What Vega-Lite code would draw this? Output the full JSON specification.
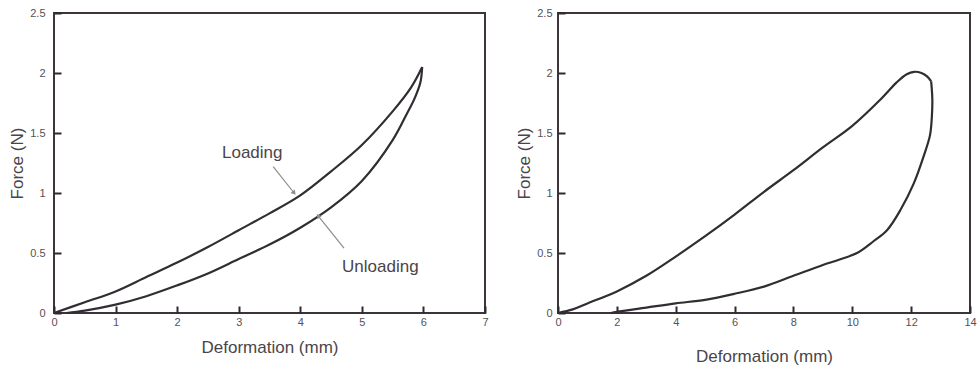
{
  "$schema": "https://vega.github.io/schema/vega-lite/v6.json",
  "background": "white",
  "padding": {"left": 7, "top": 6, "right": 0, "bottom": 0},
  "bounds": "flush",
  "spacing": 73,
  "config": {
    "font": "Liberation Sans",
    "view": {"stroke": "#3b353b", "strokeWidth": 2},
    "axis": {
      "domain": false,
      "grid": false,
      "zindex": 1,
      "labelFont": "Liberation Sans",
      "labelFontSize": 11,
      "labelColor": "#555055",
      "titleFont": "Liberation Sans",
      "titleFontSize": 17,
      "titleFontWeight": "normal",
      "titleColor": "#4a454a"
    },
    "axisX": {"labelFlush": false}
  },
  "datasets": {
    "left": [
      {"x": 0, "y": 0, "branch": "loading"},
      {"x": 0.5, "y": 0.09, "branch": "loading"},
      {"x": 1, "y": 0.18, "branch": "loading"},
      {"x": 1.5, "y": 0.3, "branch": "loading"},
      {"x": 2, "y": 0.42, "branch": "loading"},
      {"x": 2.5, "y": 0.55, "branch": "loading"},
      {"x": 3, "y": 0.69, "branch": "loading"},
      {"x": 3.5, "y": 0.83, "branch": "loading"},
      {"x": 4, "y": 0.98, "branch": "loading"},
      {"x": 4.5, "y": 1.18, "branch": "loading"},
      {"x": 5, "y": 1.4, "branch": "loading"},
      {"x": 5.5, "y": 1.68, "branch": "loading"},
      {"x": 5.8, "y": 1.88, "branch": "loading"},
      {"x": 5.98, "y": 2.05, "branch": "loading"},
      {"x": 5.98, "y": 2.05, "branch": "unloading"},
      {"x": 5.95, "y": 1.92, "branch": "unloading"},
      {"x": 5.85, "y": 1.78, "branch": "unloading"},
      {"x": 5.75, "y": 1.68, "branch": "unloading"},
      {"x": 5.5, "y": 1.44, "branch": "unloading"},
      {"x": 5, "y": 1.1, "branch": "unloading"},
      {"x": 4.5, "y": 0.88, "branch": "unloading"},
      {"x": 4, "y": 0.71, "branch": "unloading"},
      {"x": 3.5, "y": 0.57, "branch": "unloading"},
      {"x": 3, "y": 0.45, "branch": "unloading"},
      {"x": 2.5, "y": 0.33, "branch": "unloading"},
      {"x": 2, "y": 0.23, "branch": "unloading"},
      {"x": 1.5, "y": 0.14, "branch": "unloading"},
      {"x": 1, "y": 0.07, "branch": "unloading"},
      {"x": 0.5, "y": 0.02, "branch": "unloading"},
      {"x": 0.2, "y": 0, "branch": "unloading"}
    ],
    "leftNotes": [
      {"x": 3.22, "y": 1.33, "label": "Loading"},
      {"x": 5.3, "y": 0.38, "label": "Unloading"}
    ],
    "leftArrows": [
      {"name": "loading", "x": 3.56, "y": 1.22, "x2": 3.9, "y2": 1.0},
      {"name": "unloading", "x": 4.71, "y": 0.54, "x2": 4.29, "y2": 0.81}
    ],
    "right": [
      {"x": 0, "y": 0, "branch": "loading"},
      {"x": 0.5, "y": 0.03, "branch": "loading"},
      {"x": 1, "y": 0.08, "branch": "loading"},
      {"x": 2, "y": 0.18, "branch": "loading"},
      {"x": 3, "y": 0.31, "branch": "loading"},
      {"x": 4, "y": 0.47, "branch": "loading"},
      {"x": 5, "y": 0.64, "branch": "loading"},
      {"x": 6, "y": 0.82, "branch": "loading"},
      {"x": 7, "y": 1.01, "branch": "loading"},
      {"x": 8, "y": 1.19, "branch": "loading"},
      {"x": 9, "y": 1.38, "branch": "loading"},
      {"x": 10, "y": 1.56, "branch": "loading"},
      {"x": 11, "y": 1.79, "branch": "loading"},
      {"x": 11.5, "y": 1.92, "branch": "loading"},
      {"x": 11.85, "y": 1.99, "branch": "loading"},
      {"x": 12.1, "y": 2.01, "branch": "loading"},
      {"x": 12.35, "y": 2.0, "branch": "loading"},
      {"x": 12.55, "y": 1.97, "branch": "loading"},
      {"x": 12.68, "y": 1.93, "branch": "loading"},
      {"x": 12.68, "y": 1.93, "branch": "unloading"},
      {"x": 12.72, "y": 1.78, "branch": "unloading"},
      {"x": 12.7, "y": 1.62, "branch": "unloading"},
      {"x": 12.64, "y": 1.48, "branch": "unloading"},
      {"x": 12.43, "y": 1.31, "branch": "unloading"},
      {"x": 12.09, "y": 1.08, "branch": "unloading"},
      {"x": 11.64, "y": 0.86, "branch": "unloading"},
      {"x": 11.18, "y": 0.69, "branch": "unloading"},
      {"x": 10.73, "y": 0.6, "branch": "unloading"},
      {"x": 10.16, "y": 0.5, "branch": "unloading"},
      {"x": 9.5, "y": 0.44, "branch": "unloading"},
      {"x": 9, "y": 0.4, "branch": "unloading"},
      {"x": 8, "y": 0.31, "branch": "unloading"},
      {"x": 7, "y": 0.22, "branch": "unloading"},
      {"x": 6, "y": 0.16, "branch": "unloading"},
      {"x": 5, "y": 0.11, "branch": "unloading"},
      {"x": 4, "y": 0.08, "branch": "unloading"},
      {"x": 3, "y": 0.045, "branch": "unloading"},
      {"x": 2, "y": 0.01, "branch": "unloading"},
      {"x": 1.8, "y": 0, "branch": "unloading"}
    ]
  },
  "hconcat": [
    {
      "width": 431,
      "height": 300,
      "layer": [
        {
          "data": {"name": "left"},
          "mark": {"type": "line", "stroke": "#322d33", "strokeWidth": 2.2, "interpolate": "catmull-rom"},
          "encoding": {
            "x": {
              "field": "x", "type": "quantitative",
              "scale": {"domain": [0, 7], "nice": false},
              "axis": {
                "title": "Deformation (mm)", "values": [0, 1, 2, 3, 4, 5, 6, 7], "format": "d",
                "ticks": true, "tickSize": -7, "tickWidth": 2, "tickColor": "#2e292e",
                "labelPadding": 10, "titlePadding": 12
              }
            },
            "y": {
              "field": "y", "type": "quantitative",
              "scale": {"domain": [0, 2.5], "nice": false},
              "axis": {
                "title": "Force (N)", "values": [0, 0.5, 1, 1.5, 2, 2.5], "format": ".1~f",
                "ticks": true, "tickSize": -7, "tickWidth": 2, "tickColor": "#2e292e",
                "labelPadding": 16, "titlePadding": 3
              }
            },
            "detail": {"field": "branch"},
            "order": {"value": null}
          }
        },
        {
          "data": {"name": "leftArrows"},
          "mark": {"type": "rule", "stroke": "#8c8c8c", "strokeWidth": 1.2},
          "encoding": {
            "x": {"field": "x", "type": "quantitative"},
            "y": {"field": "y", "type": "quantitative"},
            "x2": {"field": "x2"},
            "y2": {"field": "y2"}
          }
        },
        {
          "data": {"name": "leftArrows"},
          "transform": [{"filter": "datum.name === 'loading'"}],
          "mark": {"type": "point", "shape": "triangle-up", "angle": 141, "filled": true, "color": "#8c8c8c", "size": 30, "opacity": 1},
          "encoding": {
            "x": {"field": "x2", "type": "quantitative"},
            "y": {"field": "y2", "type": "quantitative"}
          }
        },
        {
          "data": {"name": "leftArrows"},
          "transform": [{"filter": "datum.name === 'unloading'"}],
          "mark": {"type": "point", "shape": "triangle-up", "angle": 321, "filled": true, "color": "#8c8c8c", "size": 30, "opacity": 1},
          "encoding": {
            "x": {"field": "x2", "type": "quantitative"},
            "y": {"field": "y2", "type": "quantitative"}
          }
        },
        {
          "data": {"name": "leftNotes"},
          "mark": {"type": "text", "font": "Liberation Sans", "fontSize": 17, "color": "#4a454a"},
          "encoding": {
            "x": {"field": "x", "type": "quantitative"},
            "y": {"field": "y", "type": "quantitative"},
            "text": {"field": "label"}
          }
        }
      ]
    },
    {
      "width": 412,
      "height": 300,
      "data": {"name": "right"},
      "mark": {"type": "line", "stroke": "#322d33", "strokeWidth": 2.2, "interpolate": "catmull-rom"},
      "encoding": {
        "x": {
          "field": "x", "type": "quantitative",
          "scale": {"domain": [0, 14], "nice": false},
          "axis": {
            "title": "Deformation (mm)", "values": [0, 2, 4, 6, 8, 10, 12, 14], "format": "d",
            "ticks": true, "tickSize": -7, "tickWidth": 2, "tickColor": "#2e292e",
            "labelPadding": 10, "titlePadding": 21
          }
        },
        "y": {
          "field": "y", "type": "quantitative",
          "scale": {"domain": [0, 2.5], "nice": false},
          "axis": {
            "title": "Force (N)", "values": [0, 0.5, 1, 1.5, 2, 2.5], "format": ".1~f",
            "ticks": true, "tickSize": -7, "tickWidth": 2, "tickColor": "#2e292e",
            "labelPadding": 13, "titlePadding": 3
          }
        },
        "detail": {"field": "branch"},
        "order": {"value": null}
      }
    }
  ]
}
